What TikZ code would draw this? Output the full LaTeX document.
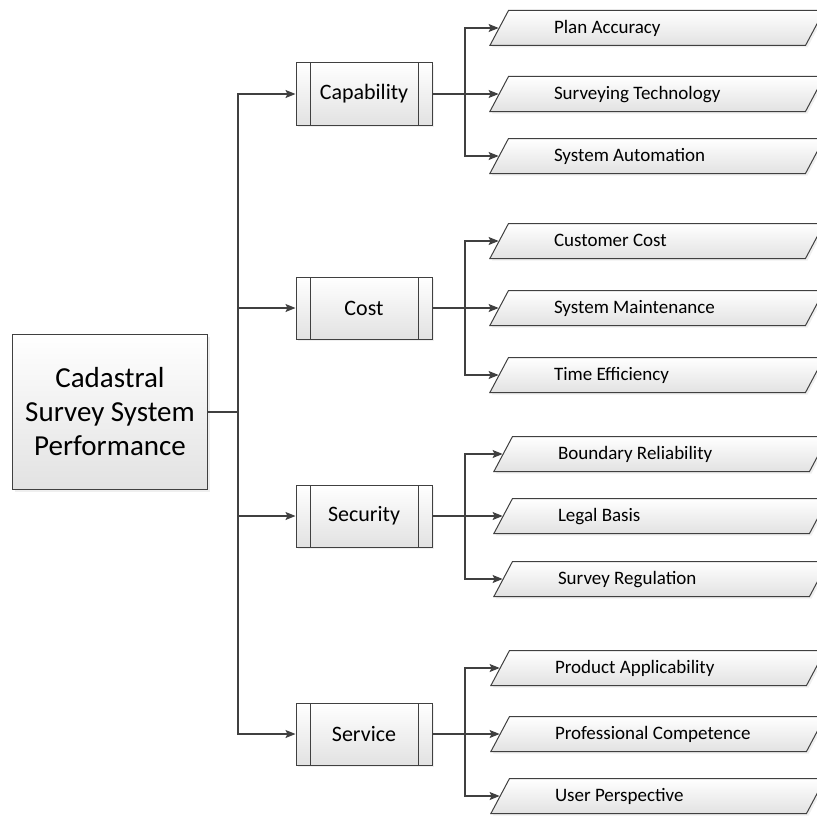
\documentclass[tikz,border=0pt]{standalone}
\usepackage{fontspec}
\setmainfont{Carlito}
\usetikzlibrary{shapes.geometric,arrows.meta,shadows}

\definecolor{edgegray}{HTML}{404040}
\definecolor{boxbot}{HTML}{E2E2E2}

\newcommand{\leaflabel}[1]{\makebox[206pt][l]{#1}}

\begin{document}
\begin{tikzpicture}[x=1pt,y=-1pt,
    box/.style={draw=edgegray, line width=1pt, top color=white, bottom color=boxbot,
      drop shadow={shadow xshift=2pt, shadow yshift=-2pt, fill=black!12}},
    catbox/.style={box, minimum width=136, minimum height=62,
      font=\fontsize{22}{26}\selectfont,
      path picture={\draw[edgegray, line width=0.8pt]
        ([xshift=14pt]path picture bounding box.north west) -- ([xshift=14pt]path picture bounding box.south west)
        ([xshift=-14pt]path picture bounding box.north east) -- ([xshift=-14pt]path picture bounding box.south east);}},
    leaf/.style={box, trapezium, trapezium left angle=62, trapezium right angle=118,
      inner xsep=45.5pt, inner ysep=9pt, text height=14pt, text depth=3pt,
      font=\fontsize{19}{22}\selectfont},
    link/.style={draw=edgegray, line width=1.3pt},
    arrow/.style={link, -{Stealth[length=10pt, width=8pt, inset=2pt]}}]
  \useasboundingbox (0,0) rectangle (817,816);

  % root and categories
  \node[box, minimum width=195, minimum height=155, align=center,
        font=\fontsize{29}{34}\selectfont] (root) at (110,412) {Cadastral\\Survey System\\Performance};
  \node[catbox] (cap)  at (364,94)  {Capability};
  \node[catbox] (cost) at (364,308) {Cost};
  \node[catbox] (sec)  at (364,516) {Security};
  \node[catbox] (serv) at (364,734) {Service};

  % leaves
  \node[leaf] (plan)  at (657,28)  {\leaflabel{Plan Accuracy}};
  \node[leaf] (tech)  at (657,94)  {\leaflabel{Surveying Technology}};
  \node[leaf] (auto)  at (657,156) {\leaflabel{System Automation}};
  \node[leaf] (cust)  at (657,241) {\leaflabel{Customer Cost}};
  \node[leaf] (maint) at (657,308) {\leaflabel{System Maintenance}};
  \node[leaf] (time)  at (657,375) {\leaflabel{Time Efficiency}};
  \node[leaf] (bound) at (661,454) {\leaflabel{Boundary Reliability}};
  \node[leaf] (legal) at (661,516) {\leaflabel{Legal Basis}};
  \node[leaf] (regul) at (661,579) {\leaflabel{Survey Regulation}};
  \node[leaf] (prod)  at (658,668) {\leaflabel{Product Applicability}};
  \node[leaf] (prof)  at (658,734) {\leaflabel{Professional Competence}};
  \node[leaf] (user)  at (658,796) {\leaflabel{User Perspective}};

  % trunk
  \coordinate (trunk) at (238,412);
  \draw[link] (root.east) -- (trunk);
  \draw[arrow] (trunk) |- (cap.west);
  \draw[arrow] (trunk) |- (cost.west);
  \draw[arrow] (trunk) |- (sec.west);
  \draw[arrow] (trunk) |- (serv.west);

  % branches
  \coordinate (capfork)  at (465,94);
  \coordinate (costfork) at (465,308);
  \coordinate (secfork)  at (465,516);
  \coordinate (servfork) at (465,734);
  \draw[link] (cap.east) -- (capfork);
  \draw[link] (cost.east) -- (costfork);
  \draw[link] (sec.east) -- (secfork);
  \draw[link] (serv.east) -- (servfork);
  \draw[arrow] (capfork) |- (plan.west);
  \draw[arrow] (capfork) |- (tech.west);
  \draw[arrow] (capfork) |- (auto.west);
  \draw[arrow] (costfork) |- (cust.west);
  \draw[arrow] (costfork) |- (maint.west);
  \draw[arrow] (costfork) |- (time.west);
  \draw[arrow] (secfork) |- (bound.west);
  \draw[arrow] (secfork) |- (legal.west);
  \draw[arrow] (secfork) |- (regul.west);
  \draw[arrow] (servfork) |- (prod.west);
  \draw[arrow] (servfork) |- (prof.west);
  \draw[arrow] (servfork) |- (user.west);
\end{tikzpicture}
\end{document}
